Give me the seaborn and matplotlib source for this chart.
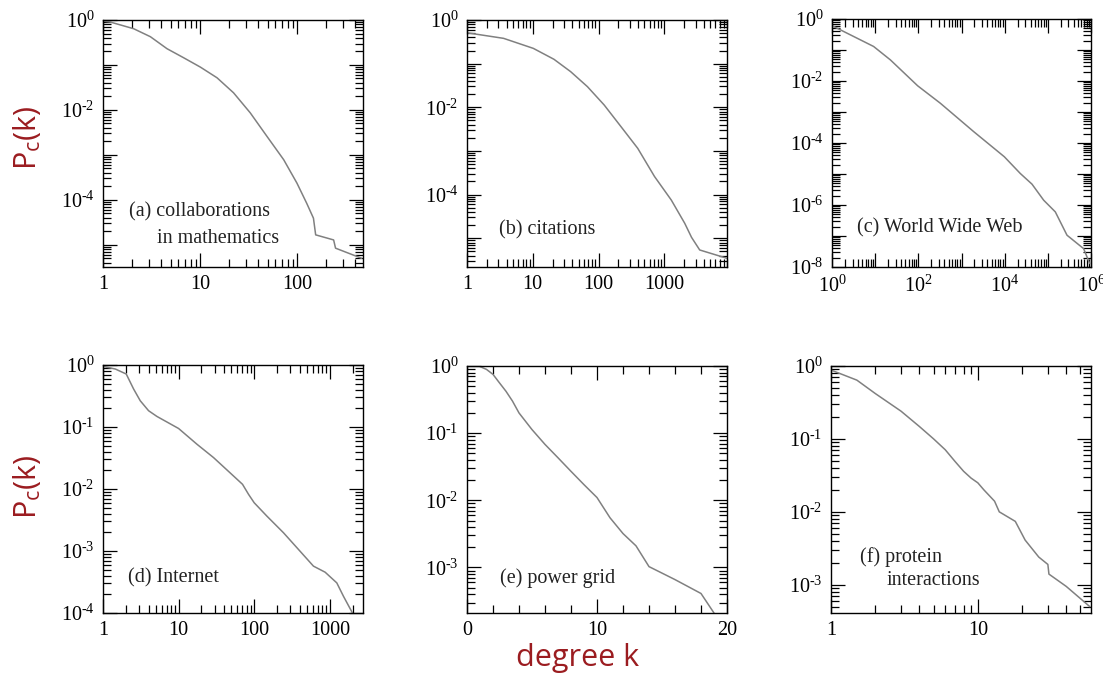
import numpy as np
import matplotlib
matplotlib.use("Agg")
import matplotlib.pyplot as plt
import matplotlib.ticker as mticker
import seaborn as sns

# cumulative degree distributions
k_math = [1, 1.19, 2.07, 3.08, 4.57, 6.77, 10.1, 15, 22.2, 33, 49, 73, 100, 126, 148, 156,
          239, 250, 465]
p_math = [0.95, 0.90, 0.64, 0.425, 0.23, 0.145, 0.0895, 0.0518, 0.024, 8.6e-3, 2.59e-3,
          7.8e-4, 2.35e-4, 8.4e-5, 3.9e-5, 1.66e-5, 1.28e-5, 8.4e-6, 5e-6]

k_cit = [1, 3.6, 10.2, 21, 37.7, 67.9, 122, 220, 395, 711, 1280, 2050, 2600, 3460, 8890]
p_cit = [0.51, 0.38, 0.224, 0.126, 0.0656, 0.0297, 0.0113, 3.6e-3, 1.15e-3, 2.6e-4, 7.5e-5,
         2.2e-5, 1.05e-5, 5.4e-6, 3.5e-6]

k_www = [1, 9.2, 22.5, 96.5, 323, 1913, 9820, 23000, 43000, 80000, 149000, 278000, 676000, 931000]
p_www = [0.61, 0.13, 0.048, 7.0e-3, 1.92e-3, 2.33e-4, 3.6e-5, 1.04e-5, 4.7e-6, 1.43e-6, 6e-7,
         1.06e-7, 3.9e-8, 1.3e-8]

k_net = [1, 1.46, 2.03, 2.54, 3.11, 4.01, 5.17, 10, 17.5, 29, 53.3, 70.1, 84.2, 100, 147, 244,
         405, 608, 868, 1238, 1517, 1995]
p_net = [0.95, 0.86, 0.715, 0.41, 0.265, 0.183, 0.148, 0.0946, 0.0527, 0.0321, 0.0162, 0.0119,
         8.2e-3, 6.0e-3, 3.66e-3, 1.97e-3, 9.9e-4, 5.7e-4, 4.55e-4, 3.06e-4, 1.86e-4, 1e-4]

k_grid = [1, 1.5, 2, 2.5, 3, 3.5, 4, 5, 6, 7, 8, 9, 10, 11, 12, 13, 14, 16, 18, 19]
p_grid = [0.98, 0.89, 0.75, 0.56, 0.42, 0.30, 0.2, 0.113, 0.068, 0.043, 0.027, 0.0171, 0.011,
          5.5e-3, 3.2e-3, 2.1e-3, 1.03e-3, 6.6e-4, 4.1e-4, 2.1e-4]

k_prot = [1, 1.5, 2, 3, 4, 5, 6, 7, 8, 9, 10, 11, 13, 14, 18, 21, 26, 30, 30.5, 40, 58]
p_prot = [0.88, 0.64, 0.42, 0.24, 0.148, 0.10, 0.071, 0.049, 0.036, 0.029, 0.025, 0.02, 0.014,
          0.01, 7.4e-3, 4.1e-3, 2.4e-3, 1.9e-3, 1.4e-3, 9.5e-4, 5e-4]

labels = [["(a) collaborations", "in mathematics"], ["(b) citations"], ["(c) World Wide Web"],
          ["(d) Internet"], ["(e) power grid"], ["(f) protein", "interactions"]]

sns.set_style("ticks")
plt.rcParams["font.family"] = ["Liberation Serif", "DejaVu Serif"]
plt.rcParams["mathtext.fontset"] = "custom"
plt.rcParams["mathtext.rm"] = "Liberation Serif"
plt.rcParams["mathtext.it"] = "Liberation Serif:italic"

W, H = 1103, 675
fig = plt.figure(figsize=(W / 100, H / 100), dpi=100)
red = "#9b1c20"
line_col = "#808080"


def make_ax(x0, y0, x1, y1):
    return fig.add_axes([x0 / W, 1 - y1 / H, (x1 - x0) / W, (y1 - y0) / H])


def pow_fmt(step):
    def f(v, pos):
        e = int(round(np.log10(v)))
        if e % step:
            return ""
        if e < 0:
            return r"$10^{\text{-}%d}$" % (-e)
        return r"$10^{%d}$" % e
    return mticker.FuncFormatter(f)


def plain_fmt(v, pos):
    return "%d" % round(v)


def style(ax, xlog=True):
    ax.set_yscale("log")
    ax.yaxis.set_major_locator(mticker.LogLocator(base=10, numticks=100))
    ax.yaxis.set_minor_locator(mticker.LogLocator(base=10, subs=np.arange(2, 10), numticks=100))
    ax.yaxis.set_minor_formatter(mticker.NullFormatter())
    if xlog:
        ax.set_xscale("log")
        ax.xaxis.set_major_locator(mticker.LogLocator(base=10, numticks=100))
        ax.xaxis.set_minor_locator(mticker.LogLocator(base=10, subs=np.arange(2, 10), numticks=100))
        ax.xaxis.set_minor_formatter(mticker.NullFormatter())
    ax.tick_params(which="both", direction="in", top=True, right=True, width=0.9,
                   labelsize=14.5, colors="black")
    ax.tick_params(which="major", length=10, pad=6)
    ax.tick_params(which="minor", length=5.5)
    for s in ax.spines.values():
        s.set_linewidth(1.0)
        s.set_color("black")
    ax.set_xlabel("")
    ax.set_ylabel("")


panels = [
    ((103, 20, 363, 267), k_math, p_math, (1, 480), (3.2e-6, 1), True, 2, "plain"),
    ((467, 20, 727, 267), k_cit, p_cit, (1, 9000), (2.2e-6, 1), True, 2, "plain"),
    ((832, 19, 1091, 267), k_www, p_www, (1, 1e6), (1e-8, 1), True, 2, "pow"),
    ((103, 365, 363, 613), k_net, p_net, (1, 2750), (1e-4, 1), True, 1, "plain"),
    ((467, 366, 727, 613), k_grid, p_grid, (0, 20), (2.1e-4, 1), False, 1, "lin"),
    ((831, 366, 1091, 613), k_prot, p_prot, (1, 59), (4.1e-4, 1), True, 1, "plain"),
]
# (x, y) in axes fraction for each text line
text_pos = [[(0.10, 0.223), (0.208, 0.117)], [(0.123, 0.15)], [(0.097, 0.157)],
            [(0.096, 0.141)], [(0.127, 0.142)], [(0.112, 0.227), (0.215, 0.13)]]

for i, (box, kk, pp, xl, yl, xlog, ystep, xfmt) in enumerate(panels):
    ax = make_ax(*box)
    sns.lineplot(x=kk, y=pp, ax=ax, color=line_col, lw=1.1, estimator=None, sort=False)
    style(ax, xlog)
    ax.set_xlim(*xl)
    ax.set_ylim(*yl)
    ax.yaxis.set_major_formatter(pow_fmt(ystep))
    if xfmt == "plain":
        ax.xaxis.set_major_formatter(mticker.FuncFormatter(plain_fmt))
    elif xfmt == "pow":
        ax.xaxis.set_major_formatter(pow_fmt(2))
    else:
        ax.xaxis.set_major_locator(mticker.MultipleLocator(10))
        ax.xaxis.set_minor_locator(mticker.MultipleLocator(2))
        ax.xaxis.set_major_formatter(mticker.FuncFormatter(plain_fmt))
    for line, (tx, ty) in zip(labels[i], text_pos[i]):
        ax.text(tx, ty, line, transform=ax.transAxes, fontsize=14.5, color="#222222",
                va="center", ha="left")

ylab = r"P$_\mathregular{c}$(k)"
for yc in (138, 487):
    fig.text(27 / W, 1 - yc / H, ylab, rotation=90, ha="center", va="center",
             color=red, fontsize=22, family=["Open Sans", "DejaVu Sans"])
fig.text(578 / W, 1 - 658 / H, "degree k", ha="center", va="center", color=red,
         fontsize=22, family=["Open Sans", "DejaVu Sans"])

fig.savefig("out.png", dpi=100)
